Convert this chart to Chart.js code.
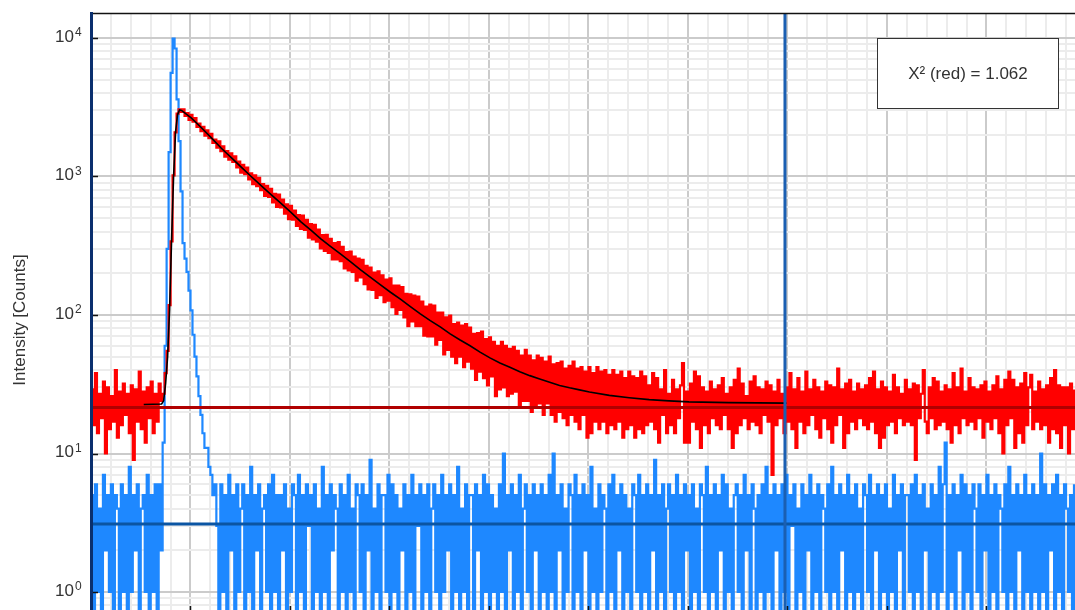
<!DOCTYPE html>
<html>
<head>
<meta charset="utf-8">
<title>Fluorescence decay</title>
<script src="https://cdn.jsdelivr.net/npm/chart.js@4.4.0/dist/chart.umd.min.js"></script>
<style>
  html, body { margin: 0; padding: 0; background: #fff; overflow: hidden; }
  #decay { display: block; }
</style>
</head>
<body>
<canvas id="decay" width="1075" height="632"></canvas>
<script>
// channel width of the TCSPC histogram, ns
const CHANNEL_NS = 0.2;

// decay histogram (counts per channel)
const decayCounts = [
  29,16,38,14,27,18,33,10,30,15,26,17,40,13,28,16,32,19,27,14,31,9,29,17,39,15,28,12,30,18,33,14,27,17,32,24,
  27,38,55,118,340,1020,2080,2840,3050,2930,
  3050,2739,2865,2559,
  2783,2484,2635,2282,2411, 2123,2283,1972,2157,1895, 2028,1745,1843,1613,1791, 1524,1648,1391,1527,1323,
  1470,1272,1398,1162,1280, 1065,1213,1041,1161,953, 1054,880,1021,852,978, 796,881,725,855,712,
  816,651,750,602,740, 597,681,539,629,493, 613,487,568,440,527, 418,521,411,487,362,
  454,352,448,339,413, 302,377,290,379,281, 354,252,331,252,336, 245,311,217,285,210,
  287,205,264,177,255, 187,250,167,226,153, 220,152,202,133,207, 139,193,124,180,127,
  184,114,163,102,163, 109,159,96,142,83, 141,90,138,83,136, 83,125,71,115,70,
  119,70,117,61,104, 66,104,52,96,56, 99,50,86,45,88, 50,84,42,86,46,
  81,41,73,34,74, 39,76,35,67,31, 69,36,64,26,60, 29,64,30,60,26,
  57,27,59,28,55, 22,51,24,56,24, 51,20,47,22,51, 23,49,19,46,23,
  50,19,44,17,45, 20,46,18,41,16, 43,19,46,17,41, 15,42,19,39,13,
  42,14,38,17,42, 15,39,17,40,14, 37,16,40,15,37, 17,39,13,35,15,
  39,16,36,13,35, 15,39,14,36,16,
  31,17,38,15,35,12,29,19,40,14, 27,16,34,14,29,18,31,45,12,28,
  12,32,17,39,15,36,11,30,16,28, 14,33,18,29,16,31,15,35,19,27,
  15,30,11,34,14,41,16,32,18,26, 15,33,17,36,16,30,14,29,19,33,
  17,31,7,28,16,34,18,27,14,30, 17,38,15,29,11,35,17,28,14,39,
  16,29,19,34,15,30,13,28,18,33, 15,31,12,30,16,41,19,29,11,32,
  14,34,17,28,15,32,18,29,16,31, 15,35,17,39,14,29,11,33,13,30,
  16,28,17,37,14,30,18,27,16,34, 17,29,16,32,9,31,18,27,40,17,
  14,30,18,35,15,33,16,28,17,31, 15,29,12,38,16,30,14,41,18,28,
  16,35,17,30,15,29,18,31,13,33, 17,28,15,31,18,36,14,29,10,34,
  16,39,18,34,11,30,14,32,12,38, 16,30,37,15,28,17,33,15,29,16,
  31,12,35,15,40,14,31,11,30,16, 30,10,32,15,29
];

// instrument response (counts per channel)
const irfCounts = [
  5,0,6,1,4,0,7,2,5,1,6,0,5,4,0,6,1,5,0,8,1,5,2,6,0,4,5,1,7,0,5,1,6,0,6,2,
  12,60,300,1500,5600,9900,8400,3600,1800,780,330,255,205,150,108,72,50,36,26,19,14,11,11,8,7,5,6,3,
  0,6,1,5,0,7,2,5,0,6, 1,4,6,0,5,1,8,0,5,2, 6,0,4,5,1,6,0,7,1,5, 0,5,2,6,0,4,1,6,5,0,
  7,1,5,0,6,3,5,0,6,1, 4,0,8,1,5,0,6,2,5,4, 0,6,1,5,0,7,1,4,0,6, 5,1,6,0,5,2,9,0,4,1,
  6,0,5,5,1,7,0,6,1,5, 0,4,2,6,0,5,1,7,0,5, 3,6,0,5,1,6,0,4,6,1, 5,0,7,1,5,2,6,0,5,1,
  8,0,4,1,6,0,5,5,0,6, 2,5,0,7,1,6,0,5,1,4, 0,6,1,10,0,5,2,6,0,5, 1,7,0,4,6,1,5,0,6,2,
  5,0,6,1,5,0,7,1,10,0, 5,2,6,0,4,1,6,5,0,7, 1,5,0,6,2,5,0,8,1,4, 0,6,1,5,4,0,6,1,7,0,
  5,2,6,0,5,1,4,0,6,5, 1,7,0,5,1,6,0,5,2,9, 0,5,1,6,0,4,6,1,5,0, 7,1,5,0,6,2,5,0,6,1,
  4,0,6,5,1,8,0,5,1,6, 0,5,2,7,0,6,1,4,0,5, 6,1,5,0,7,2,5,0,6,4, 0,5,1,6,0,8,1,5,0,6,
  2,5,0,6,1,7,0,5,3,6, 0,4,1,6,0,5,2,7,0,5, 1,6,0,5,4,1,6,0,8,1, 5,0,6,2,5,0,7,1,5,0,
  6,1,4,0,6,5,1,7,0,5, 2,6,0,5,1,6,0,4,1,7, 0,5,2,6,0,5,5,1,6,0, 7,1,5,0,6,2,4,0,6,1,
  5,0,8,1,6,12,0,5,1,6, 0,5,2,7,0,6,1,5,0,6, 4,1,6,0,5,2,7,0,5,1, 6,0,5,4,1,6,0,8,1,5,
  0,6,2,5,0,7,1,5,0,6, 1,5,0,10,1,6,0,5,2,6, 0,7,1,5,0,6,4,1,5,0, 6
];

// fitted decay curve
const fitTime = [
  5.3, 7.1, 7.3, 7.5, 7.7, 7.9, 8.1, 8.3, 8.5, 8.7, 8.9, 9.1,
  10.1, 11.1, 12.1, 13.1, 14.1, 15.1, 16.1, 17.1, 18.1, 19.1, 20.1, 21.1, 22.1, 23.1,
  24.1, 25.1, 26.1, 27.1, 28.1, 29.1, 30.1, 31.1, 32.1, 33.1, 34.1, 35.1, 36.1, 37.1,
  38.1, 39.1, 40.1, 41.1, 42.1, 43.1, 44.1, 45.1, 46.1, 47.1, 48.1, 49.1, 50.1,
  52.1, 54.1, 56.1, 58.1, 60.1, 64.1, 69.9
];
const fitCounts = [
  22.6, 22.8, 24, 32, 50, 110, 350, 1000, 2100, 2800, 3020, 3000,
  2640, 2250, 1900, 1600, 1370, 1170, 1000, 860, 740, 640, 550, 470, 410, 355,
  312, 275, 242, 212, 187, 165, 146, 130, 115, 102, 91, 82, 73, 66,
  60, 54, 49, 45, 42, 39, 36.5, 34.5, 32.7, 31, 29.8, 28.8, 27.8,
  26.3, 25.3, 24.5, 24, 23.6, 23.3, 23.1
];

const decayBackground = 21.5;   // background level of the decay
const irfBackground = 3.1;      // background level of the IRF
const fitRangeEnd = 69.75;      // ns, end of fit window
const chiSqLabel = 'X\u00b2 (red) = 1.062';

// axis ranges and grid
const X_MAX = 98.9;
const Y_MIN = 0.559;
const Y_MAX = 15150;
const yDecades = [1, 10, 100, 1000, 10000];
const yGridValues = [0.6, 0.7, 0.8, 0.9].concat(
  yDecades.flatMap(d => d === 10000 ? [d] : [1, 2, 3, 4, 5, 6, 7, 8, 9].map(m => m * d)));
const xGridValues = Array.from({ length: 50 }, (_, k) => k * 2);
const xMajor = xGridValues.filter(v => v % 10 === 0);

const FONT = '"Liberation Sans", Arial, sans-serif';
Chart.defaults.font.family = FONT;

// zero counts sit below the log axis
const BELOW = 0.1;
const toPoints = counts => counts.map((c, i) => ({ x: i * CHANNEL_NS, y: c > 0 ? c : BELOW }));

const isDecade = v => {
  const e = Math.log10(v);
  return Math.abs(e - Math.round(e)) < 1e-9;
};

const framePlugin = {
  id: 'frame',
  afterDatasetsDraw(chart) {
    const { ctx, chartArea: a, scales: { x, y } } = chart;
    ctx.save();
    ctx.strokeStyle = '#111';
    ctx.lineWidth = 1.5;
    ctx.beginPath();
    ctx.moveTo(a.left, a.top + 0.5);
    ctx.lineTo(a.right, a.top + 0.5);
    yDecades.forEach(v => {
      const py = Math.round(y.getPixelForValue(v)) + 0.5;
      ctx.moveTo(a.left, py);
      ctx.lineTo(a.left + 7, py);
    });
    xMajor.forEach(v => {
      const px = Math.round(x.getPixelForValue(v)) + 0.5;
      ctx.moveTo(px, a.bottom);
      ctx.lineTo(px, a.bottom - 21);
    });
    ctx.stroke();

    // decade labels, 10 with raised exponent
    ctx.fillStyle = '#333';
    yDecades.forEach(v => {
      const py = y.getPixelForValue(v);
      ctx.font = '17px ' + FONT;
      ctx.textAlign = 'right';
      ctx.textBaseline = 'middle';
      ctx.fillText('10', a.left - 17, py - 1);
      ctx.font = '12px ' + FONT;
      ctx.textAlign = 'left';
      ctx.textBaseline = 'top';
      ctx.fillText(String(Math.round(Math.log10(v))), a.left - 16, py - 11);
    });

    // fit quality box
    const bx = 877.5, by = 38.5, bw = 181, bh = 70;
    ctx.fillStyle = '#fff';
    ctx.fillRect(bx, by, bw, bh);
    ctx.strokeStyle = '#333';
    ctx.lineWidth = 1;
    ctx.strokeRect(bx, by, bw, bh);
    ctx.fillStyle = '#333';
    ctx.font = '17px ' + FONT;
    ctx.textAlign = 'center';
    ctx.textBaseline = 'middle';
    ctx.fillText(chiSqLabel, bx + bw / 2, by + bh / 2 + 1);
    ctx.restore();
  }
};

new Chart(document.getElementById('decay'), {
  type: 'line',
  data: {
    datasets: [
      {
        label: 'fit range',
        data: [{ x: fitRangeEnd, y: 0.1 }, { x: fitRangeEnd, y: 1e5 }],
        borderColor: '#1b5fb2',
        borderWidth: 3
      },
      {
        label: 'fit',
        data: fitTime.map((t, i) => ({ x: t, y: fitCounts[i] })),
        borderColor: '#000',
        borderWidth: 1.6
      },
      {
        label: 'decay background',
        data: [{ x: 0, y: decayBackground }, { x: X_MAX, y: decayBackground }],
        borderColor: '#b00000',
        borderWidth: 3
      },
      {
        label: 'IRF background',
        data: [{ x: 0, y: irfBackground }, { x: X_MAX, y: irfBackground }],
        borderColor: '#0b55a3',
        borderWidth: 3
      },
      {
        label: 'decay',
        data: toPoints(decayCounts),
        borderColor: '#ff0000',
        borderWidth: 2.2,
        stepped: true
      },
      {
        label: 'IRF',
        data: toPoints(irfCounts),
        borderColor: '#1e88ff',
        borderWidth: 2.2,
        stepped: true
      }
    ]
  },
  options: {
    responsive: false,
    animation: false,
    events: [],
    parsing: false,
    normalized: true,
    layout: { padding: { top: 13, right: 0, bottom: 5, left: 0 } },
    elements: { point: { radius: 0 }, line: { tension: 0 } },
    plugins: { legend: { display: false }, tooltip: { enabled: false } },
    scales: {
      x: {
        type: 'linear',
        min: 0,
        max: X_MAX,
        afterBuildTicks: s => { s.ticks = xGridValues.map(v => ({ value: v })); },
        afterFit: s => { s.height = 0; s.paddingLeft = 0; s.paddingRight = 0; },
        ticks: { display: false, autoSkip: false },
        border: { display: false },
        grid: {
          drawTicks: false,
          lineWidth: 2,
          color: c => (c.tick && c.tick.value % 10 === 0) ? '#cbcbcb' : '#ececec'
        }
      },
      y: {
        type: 'logarithmic',
        min: Y_MIN,
        max: Y_MAX,
        afterBuildTicks: s => { s.ticks = yGridValues.map(v => ({ value: v })); },
        afterFit: s => { s.width = 91; s.paddingTop = 0; s.paddingBottom = 0; },
        ticks: { display: false, autoSkip: false },
        border: { color: '#0a2f6e', width: 3, z: 1 },
        grid: {
          drawTicks: false,
          lineWidth: 2,
          color: c => (c.tick && isDecade(c.tick.value)) ? '#cbcbcb' : '#ececec'
        },
        title: {
          display: true,
          text: 'Intensity [Counts]',
          color: '#333',
          font: { size: 17 },
          padding: { top: 10, bottom: 0 }
        }
      }
    }
  },
  plugins: [framePlugin]
});
</script>
</body>
</html>
